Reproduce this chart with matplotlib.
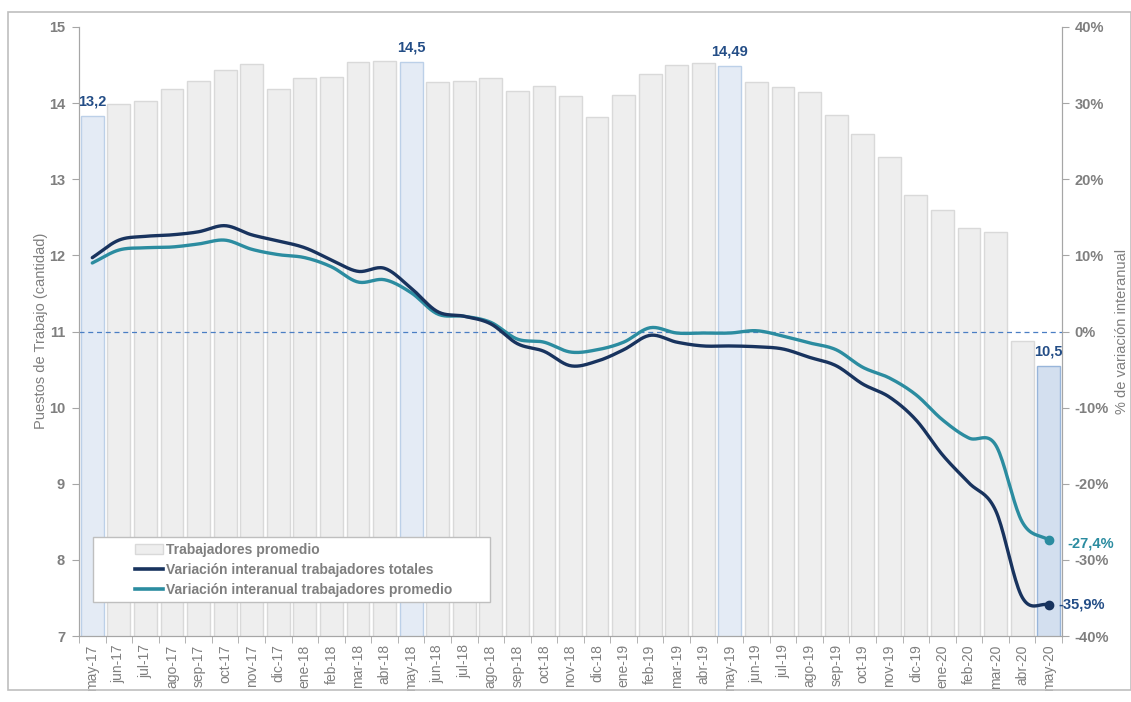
import numpy as np
import matplotlib
matplotlib.use("Agg")
import matplotlib.pyplot as plt
from matplotlib.patches import Rectangle, Patch
from matplotlib.lines import Line2D

plt.rcParams['font.family'] = ['Liberation Sans', 'DejaVu Sans']

months = ["may-17", "jun-17", "jul-17", "ago-17", "sep-17", "oct-17", "nov-17", "dic-17",
          "ene-18", "feb-18", "mar-18", "abr-18", "may-18", "jun-18", "jul-18", "ago-18",
          "sep-18", "oct-18", "nov-18", "dic-18", "ene-19", "feb-19", "mar-19", "abr-19",
          "may-19", "jun-19", "jul-19", "ago-19", "sep-19", "oct-19", "nov-19", "dic-19",
          "ene-20", "feb-20", "mar-20", "abr-20", "may-20"]

trabajadores_promedio = [13.83, 13.99, 14.03, 14.19, 14.29, 14.43, 14.51, 14.19,
                         14.33, 14.34, 14.54, 14.55, 14.54, 14.28, 14.29, 14.33,
                         14.16, 14.22, 14.09, 13.82, 14.11, 14.38, 14.50, 14.53,
                         14.49, 14.28, 14.21, 14.15, 13.84, 13.59, 13.29, 12.79,
                         12.60, 12.36, 12.31, 10.87, 10.55]

var_totales = [9.7, 12.0, 12.5, 12.7, 13.1, 13.9, 12.7, 11.9,
               11.0, 9.4, 7.9, 8.3, 5.7, 2.6, 2.0, 1.0,
               -1.6, -2.6, -4.5, -3.9, -2.4, -0.5, -1.4, -1.9,
               -1.9, -2.0, -2.3, -3.4, -4.5, -6.9, -8.6, -11.6,
               -16.2, -19.9, -23.5, -34.9, -35.9]

var_promedio = [9.0, 10.7, 11.0, 11.1, 11.5, 12.0, 10.8, 10.1,
                9.7, 8.5, 6.5, 6.8, 5.1, 2.3, 2.0, 1.2,
                -1.0, -1.4, -2.7, -2.4, -1.4, 0.5, -0.2, -0.2,
                -0.2, 0.1, -0.6, -1.5, -2.4, -4.7, -6.1, -8.3,
                -11.6, -14.0, -14.9, -25.0, -27.4]

highlight_idx = [0, 12, 24, 36]
highlight_labels = ["13,2", "14,5", "14,49", "10,5"]
end_labels = ["-35,9%", "-27,4%"]

left_ticks = [7, 8, 9, 10, 11, 12, 13, 14, 15]
right_ticks = [-40, -30, -20, -10, 0, 10, 20, 30, 40]

DARK = "#18335E"
TEAL = "#2B8CA0"
GREY = "#7F7F7F"
LABEL_BLUE = "#234D86"


def smooth(xs, ys, n=20):
    xs = np.asarray(xs, float)
    ys = np.asarray(ys, float)
    px = np.concatenate([[2 * xs[0] - xs[1]], xs, [2 * xs[-1] - xs[-2]]])
    py = np.concatenate([[2 * ys[0] - ys[1]], ys, [2 * ys[-1] - ys[-2]]])
    outx, outy = [], []
    t = np.linspace(0, 1, n, endpoint=False)
    for i in range(1, len(px) - 2):
        def cr(a0, a1, a2, a3):
            return 0.5 * ((2 * a1) + (-a0 + a2) * t + (2 * a0 - 5 * a1 + 4 * a2 - a3) * t ** 2
                          + (-a0 + 3 * a1 - 3 * a2 + a3) * t ** 3)
        outx.extend(cr(px[i - 1], px[i], px[i + 1], px[i + 2]))
        outy.extend(cr(py[i - 1], py[i], py[i + 1], py[i + 2]))
    outx.append(xs[-1])
    outy.append(ys[-1])
    return np.array(outx), np.array(outy)


W, H = 1131, 702
fig = plt.figure(figsize=(W / 100, H / 100), dpi=100)
fig.patches.append(Rectangle((8 / W, 1 - 690 / H), (W - 8) / W, (690 - 12) / H,
                             transform=fig.transFigure, fill=False,
                             edgecolor="#BFBFBF", linewidth=1.2))

ax = fig.add_axes([79 / W, 1 - 636 / H, (1062 - 79) / W, (636 - 27) / H])
ax2 = ax.twinx()

x = np.arange(len(months))
face = ["#EEEEEE"] * len(months)
edge = ["#D9D9D9"] * len(months)
for i in highlight_idx[:-1]:
    face[i] = "#E4EBF5"
    edge[i] = "#BCD0E8"
face[36] = "#D3DFEF"
edge[36] = "#98B5DA"
ax.bar(x, trabajadores_promedio, width=0.86, color=face, edgecolor=edge, linewidth=1.0, zorder=2)

ax.set_xlim(-0.5, len(months) - 0.5)
ax.set_ylim(7, 15)
ax.set_yticks(left_ticks)
ax.set_xticks(x)
ax.set_xticklabels(months, rotation=90, fontsize=10, color=GREY)
ax.set_xticks(np.arange(-0.5, len(months), 1), minor=True)
ax.tick_params(axis='x', which='major', length=0, pad=6)
ax.tick_params(axis='x', which='minor', length=5, color="#A6A6A6")
ax.tick_params(axis='y', length=5, color="#A6A6A6", labelsize=10.5, labelcolor=GREY, pad=5)
for lab in ax.get_yticklabels():
    lab.set_fontweight('bold')
fig.text(41 / W, 1 - 331 / H, "Puestos de Trabajo (cantidad)", rotation=90, ha='center', va='center',
         color=GREY, fontsize=10.5)

ax.spines["top"].set_visible(False)
ax2.spines["top"].set_visible(False)
for a in (ax, ax2):
    for sp in ["left", "right", "bottom"]:
        a.spines[sp].set_color("#A6A6A6")

for i, lab in zip(highlight_idx, highlight_labels):
    ax.text(x[i], trabajadores_promedio[i] + 0.1, lab, ha='center', va='bottom',
            color=LABEL_BLUE, fontsize=10.5, fontweight='bold', zorder=5)

ax2.set_ylim(-40, 40)
ax2.set_yticks(right_ticks)
ax2.set_yticklabels([f"{v}%" for v in right_ticks])
ax2.tick_params(axis='y', length=5, color="#A6A6A6", labelsize=10.5, labelcolor=GREY, pad=4)
for lab in ax2.get_yticklabels():
    lab.set_fontweight('bold')
fig.text(1122 / W, 1 - 331 / H, "% de variación interanual", rotation=90, ha='center', va='center',
         color=GREY, fontsize=10.5)

ax2.axhline(0, color="#4A7EC4", linestyle=(0, (4, 3)), linewidth=0.9, zorder=1)

sx, sy = smooth(x, var_promedio)
ax2.plot(sx, sy, color=TEAL, linewidth=2.4, zorder=3, solid_capstyle='round')
sx, sy = smooth(x, var_totales)
ax2.plot(sx, sy, color=DARK, linewidth=2.4, zorder=4, solid_capstyle='round')
ax2.plot(x[-1], var_promedio[-1], 'o', color=TEAL, markersize=6, zorder=5)
ax2.plot(x[-1], var_totales[-1], 'o', color=DARK, markersize=6, zorder=5)
ax2.text(x[-1] + 0.35, var_totales[-1] + 0.1, end_labels[0], ha='left', va='center',
         color=LABEL_BLUE, fontsize=10.5, fontweight='bold', clip_on=False)
ax2.text(x[-1] + 0.7, var_promedio[-1] - 0.5, end_labels[1], ha='left', va='center',
         color=TEAL, fontsize=10.5, fontweight='bold', clip_on=False)

# legend box
ax2.add_patch(Rectangle((93 / W, 1 - 602 / H), (490 - 93) / W, (602 - 537) / H,
                        transform=fig.transFigure, facecolor="white", edgecolor="#BFBFBF",
                        linewidth=1.0, zorder=9, clip_on=False))
handles = [Patch(facecolor="#EEEEEE", edgecolor="#D9D9D9"),
           Line2D([], [], color=DARK, linewidth=2.6),
           Line2D([], [], color=TEAL, linewidth=2.6)]
labels = ["Trabajadores promedio", "Variación interanual trabajadores totales",
          "Variación interanual trabajadores promedio"]
leg = ax2.legend(handles, labels, loc='center left',
                 bbox_to_anchor=(135 / W, 1 - 570 / H), bbox_transform=fig.transFigure,
                 frameon=False, labelcolor=GREY,
                 handlelength=2.0, handletextpad=0.2, borderpad=0.0, borderaxespad=0.0,
                 labelspacing=0.45, prop={'weight': 'bold', 'size': 10})
leg.set_zorder(10)

fig.savefig("out.png", dpi=100)
